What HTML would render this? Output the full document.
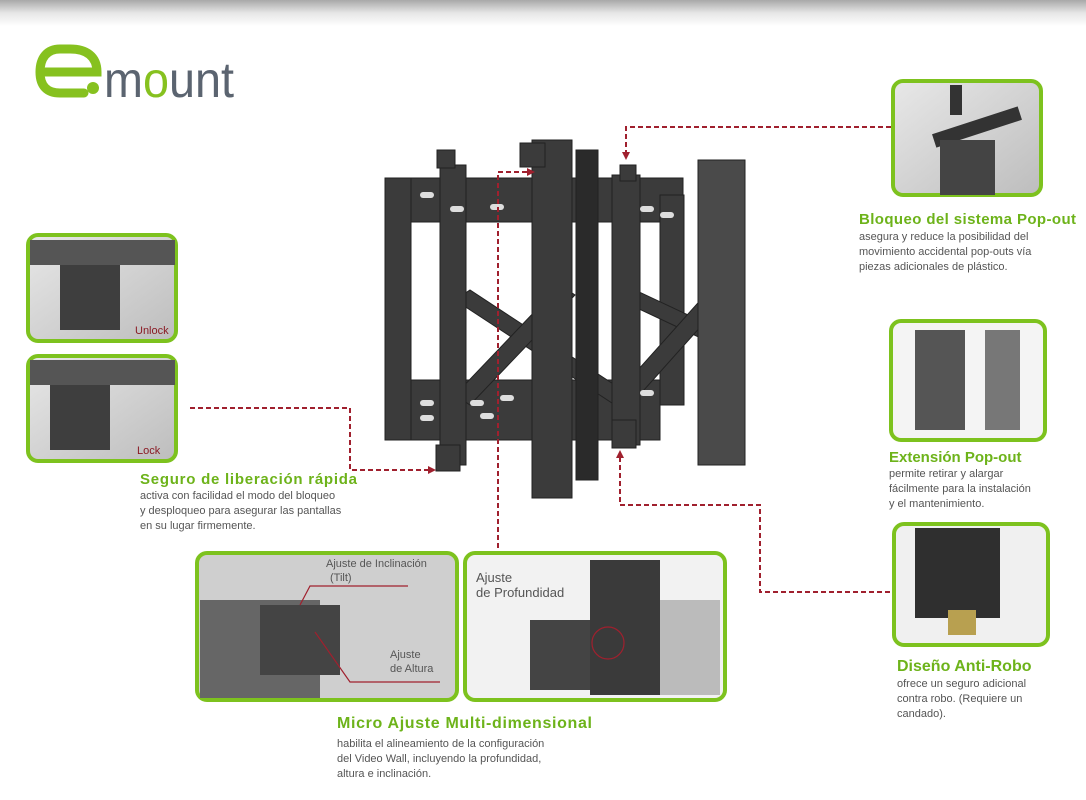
<!DOCTYPE html>
<html><head><meta charset="utf-8"><style>
body{margin:0;width:1086px;height:800px;overflow:hidden;background:#fff;font-family:"Liberation Sans",sans-serif}
</style></head><body>
<svg width="1086" height="800" xmlns="http://www.w3.org/2000/svg" style="position:absolute;left:0;top:0">
<defs>
<linearGradient id="top" x1="0" y1="0" x2="0" y2="1"><stop offset="0" stop-color="#a8a8a8"/><stop offset="0.5" stop-color="#e6e6e6"/><stop offset="1" stop-color="#fff"/></linearGradient>
<marker id="ar" markerWidth="8" markerHeight="8" refX="6" refY="4" orient="auto" markerUnits="userSpaceOnUse"><path d="M0,0 L8,4 L0,8 z" fill="#a0202e"/></marker>
<linearGradient id="ph" x1="0" y1="0" x2="1" y2="1"><stop offset="0" stop-color="#e8e8e8"/><stop offset="1" stop-color="#bdbdbd"/></linearGradient>
</defs>
<rect x="0" y="0" width="1086" height="26" fill="url(#top)"/>
<!-- logo -->
<path d="M40,72 H97 C97,56 86,49 70,49 H60 C47,49 40,58 40,72 C40,86 47,93 60,93 H84" fill="none" stroke="#86c11f" stroke-width="9" stroke-linecap="round"/>
<circle cx="93" cy="88" r="6" fill="#86c11f"/>
<text x="104" y="97" font-size="50" fill="#5b6470" textLength="130" lengthAdjust="spacingAndGlyphs">m<tspan fill="#86c11f">o</tspan>unt</text>

<!-- mount -->
<g fill="#3b3b3b" stroke="#222" stroke-width="1">
<rect x="388" y="178" width="295" height="44"/>
<rect x="385" y="380" width="275" height="60"/>
<rect x="385" y="178" width="26" height="262"/>
<rect x="660" y="195" width="24" height="210"/>
<polygon points="455,300 470,290 630,395 615,405"/>
<polygon points="455,395 470,405 575,295 560,285"/>
<polygon points="620,300 635,290 720,330 705,340"/>
<polygon points="620,390 635,400 720,305 705,295"/>
<rect x="440" y="165" width="26" height="300"/>
<rect x="532" y="140" width="40" height="358"/>
<rect x="576" y="150" width="22" height="330" fill="#2a2a2a"/>
<rect x="612" y="175" width="28" height="270"/>
<rect x="698" y="160" width="47" height="305" fill="#4a4a4a"/>
<rect x="437" y="150" width="18" height="18"/>
<rect x="520" y="143" width="25" height="24"/>
<rect x="620" y="165" width="16" height="16"/>
<rect x="612" y="420" width="24" height="28"/>
<rect x="436" y="445" width="24" height="26"/>
</g>
<g fill="#ddd">
<rect x="420" y="192" width="14" height="6" rx="3"/><rect x="450" y="206" width="14" height="6" rx="3"/><rect x="490" y="204" width="14" height="6" rx="3"/><rect x="640" y="206" width="14" height="6" rx="3"/><rect x="660" y="212" width="14" height="6" rx="3"/>
<rect x="420" y="400" width="14" height="6" rx="3"/><rect x="470" y="400" width="14" height="6" rx="3"/><rect x="500" y="395" width="14" height="6" rx="3"/><rect x="420" y="415" width="14" height="6" rx="3"/><rect x="480" y="413" width="14" height="6" rx="3"/><rect x="640" y="390" width="14" height="6" rx="3"/>
</g>

<!-- dashed connectors -->
<g fill="none" stroke="#a0202e" stroke-width="2" stroke-dasharray="5,3">
<polyline points="891,127 626,127 626,158" marker-end="url(#ar)"/>
<polyline points="190,408 350,408 350,470 434,470" marker-end="url(#ar)"/>
<polyline points="498,548 498,172 533,172" marker-end="url(#ar)"/>
<polyline points="890,592 760,592 760,505 620,505 620,452" marker-end="url(#ar)"/>
</g>

<!-- photo boxes -->
<g stroke="#7dc21e" stroke-width="4" fill="url(#ph)">
<rect x="893" y="81" width="148" height="114" rx="10"/>
<rect x="28" y="235" width="148" height="106" rx="10"/>
<rect x="28" y="356" width="148" height="105" rx="10"/>
<rect x="891" y="321" width="154" height="119" rx="10" fill="#f4f4f4"/>
<rect x="894" y="524" width="154" height="121" rx="10" fill="#f0f0f0"/>
<rect x="197" y="553" width="260" height="147" rx="10" fill="#cfcfcf"/>
<rect x="465" y="553" width="260" height="147" rx="10" fill="#f2f2f2"/>
</g>
<g fill="#333">
<rect x="932" y="120" width="90" height="14" transform="rotate(-18 977 127)"/>
<rect x="940" y="140" width="55" height="55" fill="#444"/>
<rect x="950" y="85" width="12" height="30"/>
<rect x="30" y="240" width="145" height="25" fill="#555"/>
<rect x="60" y="265" width="60" height="65" fill="#3e3e3e"/>
<rect x="30" y="360" width="145" height="25" fill="#555"/>
<rect x="50" y="385" width="60" height="65" fill="#3e3e3e"/>
<rect x="915" y="330" width="50" height="100" fill="#555"/><rect x="985" y="330" width="35" height="100" fill="#777"/>
<rect x="915" y="528" width="85" height="90" fill="#2f2f2f"/>
<rect x="948" y="610" width="28" height="25" fill="#b8a050"/>
<rect x="200" y="600" width="120" height="98" fill="#666"/>
<rect x="260" y="605" width="80" height="70" fill="#444"/>
<rect x="590" y="560" width="70" height="135" fill="#3a3a3a"/>
<rect x="530" y="620" width="60" height="70" fill="#444"/>
<rect x="660" y="600" width="60" height="95" fill="#bbb"/>
</g>
<g font-size="11" fill="#444">
<text x="135" y="334" fill="#8a1a24">Unlock</text>
<text x="137" y="454" fill="#8a1a24">Lock</text>
<text x="326" y="567" fill="#555">Ajuste de Inclinación</text>
<text x="330" y="581" fill="#555">(Tilt)</text>
<text x="390" y="658" fill="#555">Ajuste</text>
<text x="390" y="672" fill="#555">de Altura</text>
<text x="476" y="582" font-size="13" fill="#555">Ajuste</text>
<text x="476" y="597" font-size="13" fill="#555">de Profundidad</text>
</g>
<g stroke="#a0202e" stroke-width="1.2" fill="none">
<polyline points="408,586 310,586 300,605"/>
<polyline points="440,682 350,682 315,632"/>
<circle cx="608" cy="643" r="16"/>
</g>

<g font-family="Liberation Sans">
<text x="859" y="224" font-size="15" font-weight="bold" fill="#6db31a" textLength="217">Bloqueo del sistema Pop-out</text>
<g font-size="11" fill="#555"><text x="859" y="240">asegura y reduce la posibilidad del</text><text x="859" y="255">movimiento accidental pop-outs vía</text><text x="859" y="270">piezas adicionales de plástico.</text></g>
<text x="140" y="484" font-size="15" font-weight="bold" fill="#6db31a" textLength="217">Seguro de liberación rápida</text>
<g font-size="11" fill="#555"><text x="140" y="499">activa con facilidad el modo del bloqueo</text><text x="140" y="514">y desploqueo para asegurar las pantallas</text><text x="140" y="529">en su lugar firmemente.</text></g>
<text x="889" y="462" font-size="15" font-weight="bold" fill="#6db31a">Extensión Pop-out</text>
<g font-size="11" fill="#555"><text x="889" y="477">permite retirar y alargar</text><text x="889" y="492">fácilmente para la instalación</text><text x="889" y="507">y el mantenimiento.</text></g>
<text x="897" y="671" font-size="16" font-weight="bold" fill="#6db31a">Diseño Anti-Robo</text>
<g font-size="11" fill="#555"><text x="897" y="687">ofrece un seguro adicional</text><text x="897" y="702">contra robo. (Requiere un</text><text x="897" y="717">candado).</text></g>
<text x="337" y="728" font-size="16" font-weight="bold" fill="#6db31a" textLength="255">Micro Ajuste Multi-dimensional</text>
<g font-size="11" fill="#555"><text x="337" y="747">habilita el alineamiento de la configuración</text><text x="337" y="762">del Video Wall, incluyendo la profundidad,</text><text x="337" y="777">altura e inclinación.</text></g>
</g>
</svg>
</body></html>
